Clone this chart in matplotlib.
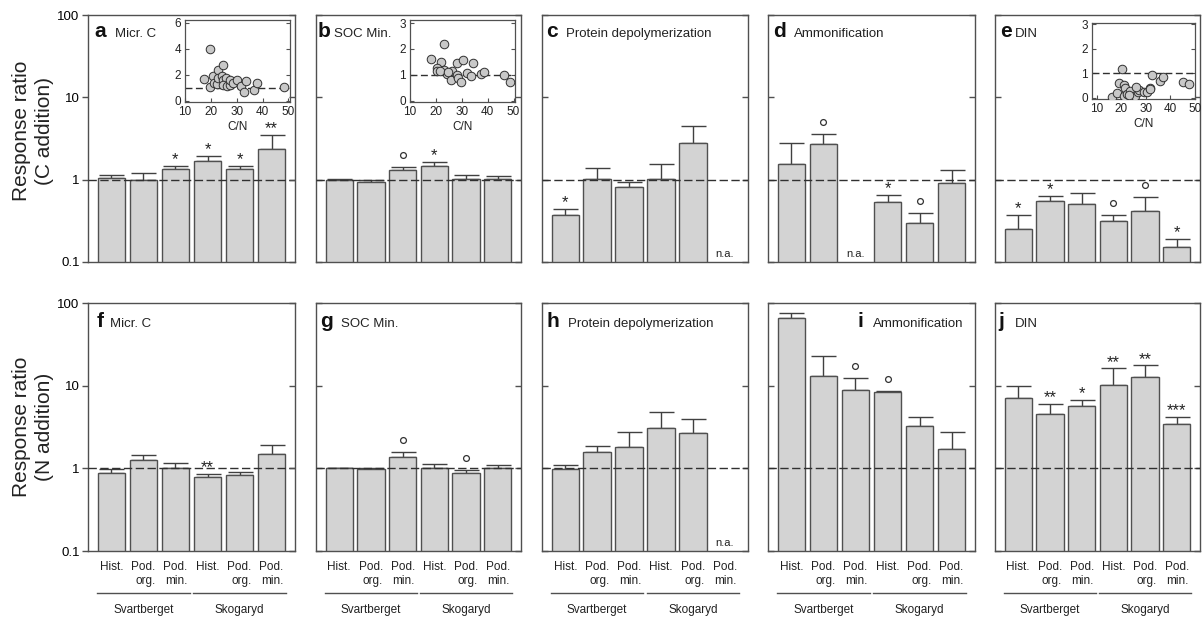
import numpy as np
import matplotlib
matplotlib.use('Agg')
import matplotlib.pyplot as plt
from matplotlib.transforms import offset_copy, blended_transform_factory
from matplotlib.ticker import FixedLocator, NullLocator, NullFormatter

plt.rcParams['font.family'] = ['Liberation Sans', 'DejaVu Sans']

nan = np.nan

# Data
sites = ['Svartberget', 'Skogaryd']
horizons = ['Hist.', 'Pod.\norg.', 'Pod.\nmin.', 'Hist.', 'Pod.\norg.', 'Pod.\nmin.']

# C addition (a-e): bar value, top of error bar, significance
micr_c_C = [1.06, 1.00, 1.36, 1.70, 1.34, 2.34]
micr_c_C_top = [1.14, 1.22, 1.47, 1.94, 1.47, 3.5]
micr_c_C_sig = ['', '', '*', '*', '*', '**']

soc_C = [1.00, 0.94, 1.30, 1.47, 1.01, 1.02]
soc_C_top = [1.02, 1.00, 1.44, 1.65, 1.15, 1.11]
soc_C_sig = ['', '', 'o', '*', '', '']

prot_C = [0.37, 1.02, 0.81, 1.02, 2.79, nan]
prot_C_top = [0.445, 1.40, 0.95, 1.54, 4.46, nan]
prot_C_sig = ['*', '', '', '', '', '']

ammon_C = [1.55, 2.69, nan, 0.54, 0.30, 0.91]
ammon_C_top = [2.82, 3.56, nan, 0.65, 0.39, 1.30]
ammon_C_sig = ['', 'o', '', '*', 'o', '']

din_C = [0.252, 0.546, 0.50, 0.315, 0.42, 0.152]
din_C_top = [0.37, 0.64, 0.69, 0.37, 0.62, 0.19]
din_C_sig = ['*', '*', '', 'o', 'o', '*']

# N addition (f-j)
micr_c_N = [0.885, 1.27, 1.02, 0.78, 0.82, 1.48]
micr_c_N_top = [0.98, 1.44, 1.15, 0.85, 0.91, 1.90]
micr_c_N_sig = ['', '', '', '**', '', '']

soc_N = [1.00, 0.98, 1.37, 1.00, 0.89, 1.02]
soc_N_top = [1.02, 1.02, 1.56, 1.12, 0.95, 1.09]
soc_N_sig = ['', '', 'o', '', 'o', '']

prot_N = [0.99, 1.56, 1.83, 3.10, 2.65, nan]
prot_N_top = [1.09, 1.85, 2.77, 4.8, 3.91, nan]
prot_N_sig = ['', '', '', '', '', '']

ammon_N = [65, 13.2, 8.9, 8.4, 3.22, 1.73]
ammon_N_top = [76, 23, 12.5, 8.7, 4.2, 2.72]
ammon_N_sig = ['', '', 'o', 'o', '', '']

din_N = [7.0, 4.5, 5.7, 10.2, 12.7, 3.43]
din_N_top = [9.97, 6.0, 6.8, 16.2, 17.6, 4.17]
din_N_sig = ['', '**', '*', '**', '**', '***']

# Inset scatter data (C/N vs response ratio)
cn_a = [19.7, 17.5, 19.7, 20.7, 22.6, 24.8, 21.0, 22.5, 22.9, 24.2, 24.8, 25.9,
        24.6, 26.1, 27.2, 27.4, 28.7, 30.0, 31.7, 32.6, 33.6, 36.7, 38.0, 48.1]
rr_a = [4.0, 1.69, 1.03, 1.92, 2.38, 2.77, 1.36, 1.31, 1.74, 1.87, 1.62, 1.74,
        1.23, 1.10, 1.23, 1.62, 1.36, 1.56, 1.10, 0.64, 1.49, 0.79, 1.36, 1.05]
cn_b = [23.3, 18.1, 22.0, 20.3, 20.6, 23.3, 24.2, 25.7, 26.4, 28.1, 28.7, 29.7,
        28.3, 30.6, 31.9, 33.5, 34.3, 37.4, 38.6, 46.4, 48.5, 21.6, 24.8]
rr_b = [2.18, 1.62, 1.49, 1.26, 1.13, 1.19, 1.03, 0.81, 1.15, 1.0, 0.87, 0.74,
        1.47, 1.58, 1.06, 0.94, 1.47, 1.03, 1.10, 1.0, 0.72, 1.15, 1.10]
cn_e = [20.1, 19.1, 16.0, 18.1, 21.1, 21.5, 21.0, 22.1, 23.7, 24.5, 25.4, 26.8,
        27.4, 29.1, 30.4, 31.5, 31.7, 32.6, 35.9, 37.1, 45.2, 47.6, 23.2, 26.1]
rr_e = [1.19, 0.61, 0.05, 0.19, 0.52, 0.39, 0.09, 0.16, 0.26, 0.03, 0.09, 0.22,
        0.31, 0.25, 0.25, 0.39, 0.35, 0.91, 0.70, 0.83, 0.64, 0.58, 0.13, 0.42]

panels = [
    ('a', 'Micr. C', micr_c_C, micr_c_C_top, micr_c_C_sig),
    ('b', 'SOC Min.', soc_C, soc_C_top, soc_C_sig),
    ('c', 'Protein depolymerization', prot_C, prot_C_top, prot_C_sig),
    ('d', 'Ammonification', ammon_C, ammon_C_top, ammon_C_sig),
    ('e', 'DIN', din_C, din_C_top, din_C_sig),
    ('f', 'Micr. C', micr_c_N, micr_c_N_top, micr_c_N_sig),
    ('g', 'SOC Min.', soc_N, soc_N_top, soc_N_sig),
    ('h', 'Protein depolymerization', prot_N, prot_N_top, prot_N_sig),
    ('i', 'Ammonification', ammon_N, ammon_N_top, ammon_N_sig),
    ('j', 'DIN', din_N, din_N_top, din_N_sig),
]

# Layout (pixels)
W, H = 1204, 617
lefts = [88, 316, 542, 768, 995]
widths = [207, 205, 206, 207, 205]
rows = [(15, 262), (303, 551)]
# letter x, title x (axes fraction)
title_pos = {'a': (0.03, 0.13), 'b': (0.01, 0.09), 'c': (0.02, 0.117),
             'd': (0.024, 0.126), 'e': (0.024, 0.097), 'f': (0.043, 0.106),
             'g': (0.02, 0.122), 'h': (0.024, 0.126), 'i': (0.43, 0.507),
             'j': (0.015, 0.097)}
insets = {'a': ([0.469, 0.648, 0.507, 0.332], cn_a, rr_a, (10, 50.6), (-0.1, 6.23), [0, 2, 4, 6]),
          'b': ([0.459, 0.648, 0.512, 0.332], cn_b, rr_b, (10, 50.6), (-0.05, 3.12), [0, 1, 2, 3]),
          'e': ([0.473, 0.660, 0.502, 0.308], cn_e, rr_e, (8, 49.6), (-0.05, 3.05), [0, 1, 2, 3])}

edge = '#505050'
fig = plt.figure(figsize=(W / 100, H / 100), dpi=100)
x = np.arange(6)

for k, (letter, title, vals, tops, sig) in enumerate(panels):
    row, col = divmod(k, 5)
    t, b = rows[row]
    ax = fig.add_axes([lefts[col] / W, 1 - b / H, widths[col] / W, (b - t) / H])
    ax.set_yscale('log')
    vals = np.array(vals, dtype=float)
    tops = np.array(tops, dtype=float)
    ok = np.isfinite(vals)
    ax.bar(x[ok], vals[ok] - 0.01, bottom=0.01, width=0.86, color='#d3d3d3',
           edgecolor=edge, linewidth=1, zorder=2)
    ax.errorbar(x[ok], vals[ok], yerr=[np.zeros(ok.sum()), tops[ok] - vals[ok]],
                fmt='none', ecolor='#404040', elinewidth=1, capsize=9, capthick=1, zorder=1)
    ax.axhline(1, color='#303030', lw=1, dashes=(6, 2.5), zorder=3)
    ax.set_ylim(0.1, 100)
    ax.set_xlim(-0.73, 5.73)

    for i in x[~ok]:
        ax.text(i, 0.012, 'n.a.', transform=blended_transform_factory(ax.transData, ax.transAxes),
                ha='center', va='bottom', fontsize=8, color='#222222')

    star_tr = offset_copy(ax.transData, fig=fig, y=1.2, units='points')
    circ_tr = offset_copy(ax.transData, fig=fig, y=8.6, units='points')
    for i, s in enumerate(sig):
        if s == 'o':
            ax.plot(i, tops[i], 'o', ms=4.2, mfc='white', mec='#333333', mew=0.9,
                    transform=circ_tr, clip_on=False, zorder=4)
        elif s:
            ax.text(i, tops[i], s, transform=star_tr, ha='center', va='baseline',
                    fontsize=12, color='#222222')

    for sp in ax.spines.values():
        sp.set_color(edge)
        sp.set_linewidth(1)
    ax.yaxis.set_major_locator(FixedLocator([0.1, 1, 10, 100]))
    ax.yaxis.set_minor_locator(NullLocator())
    ax.yaxis.set_minor_formatter(NullFormatter())
    if col == 0:
        ax.set_yticklabels(['0.1', '1', '10', '100'])
        ax.tick_params(axis='y', direction='out', length=4, width=1, color=edge,
                       labelsize=9.5, pad=2, right=False)
        tw = ax.twinx()
        tw.set_yscale('log')
        tw.set_ylim(0.1, 100)
        tw.yaxis.set_major_locator(FixedLocator([0.1, 1, 10, 100]))
        tw.yaxis.set_minor_locator(NullLocator())
        tw.yaxis.set_major_formatter(NullFormatter())
        tw.yaxis.set_minor_formatter(NullFormatter())
        tw.tick_params(axis='y', direction='in', length=4, width=1, color=edge)
        for sp in tw.spines.values():
            sp.set_visible(False)
        label = 'Response ratio\n(C addition)' if row == 0 else 'Response ratio\n(N addition)'
        yc = 131 if row == 0 else 427
        fig.text(33 / W, 1 - yc / H, label, rotation=90, ha='center', va='center',
                 fontsize=15, linespacing=1.3, color='#222222')
    else:
        ax.yaxis.set_major_formatter(NullFormatter())
        ax.tick_params(axis='y', direction='in', length=4, width=1, color=edge,
                       left=True, right=True)

    if row == 1:
        ax.set_xticks(x)
        ax.set_xticklabels(horizons, fontsize=8.5, multialignment='right', color='#222222')
        ax.tick_params(axis='x', length=0, pad=7)
        trans = blended_transform_factory(ax.transData, ax.transAxes)
        for g, site in enumerate(sites):
            c = 1 + 3 * g
            ax.plot([c - 1.44, c + 1.44], [-0.169, -0.169], transform=trans,
                    clip_on=False, color=edge, lw=1)
            ax.text(c, -0.238, site, transform=trans, ha='center', va='center',
                    fontsize=8.5, color='#222222')
    else:
        ax.set_xticks([])

    lx, tx = title_pos[letter]
    ly = 0.91 if row == 0 else 0.904
    ax.text(lx, ly, letter, transform=ax.transAxes, fontsize=15, fontweight='bold',
            va='baseline', ha='left', color='#111111')
    ax.text(tx, ly, title, transform=ax.transAxes, fontsize=9.5, va='baseline',
            ha='left', color='#222222')

    if letter in insets:
        rect, cn, rr, xl, yl, yt = insets[letter]
        ins = ax.inset_axes(rect)
        ins.axhline(1, color='#303030', lw=1, dashes=(5, 2.5), zorder=2)
        ins.scatter(cn, rr, s=38, c='#c8c8c8', edgecolors='#303030', linewidths=0.7, zorder=3)
        ins.set_xlim(*xl)
        ins.set_ylim(*yl)
        ins.set_xticks([10, 20, 30, 40, 50])
        ins.set_yticks(yt)
        ins.tick_params(direction='in', length=3, width=0.8, color=edge, labelsize=8.5,
                        right=True, pad=3, labelcolor='#222222')
        ins.set_xlabel('C/N', fontsize=8.5, labelpad=2, color='#222222')
        for sp in ins.spines.values():
            sp.set_color(edge)
            sp.set_linewidth(0.9)

fig.savefig('out.png', dpi=100)
